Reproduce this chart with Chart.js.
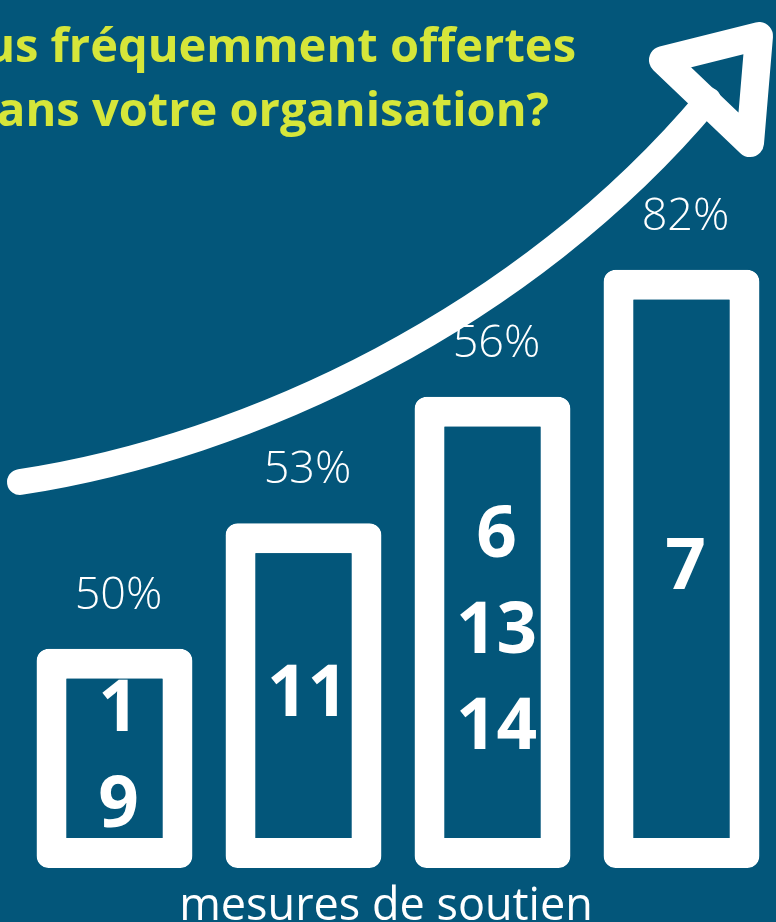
<!DOCTYPE html>
<html lang="fr">
<head>
<meta charset="utf-8">
<title>Mesures de soutien</title>
<script src="https://cdn.jsdelivr.net/npm/chart.js@4.4.1/dist/chart.umd.min.js"></script>
<style>
  html, body { margin: 0; padding: 0; background: #03567a; overflow: hidden; }
  #wrap { width: 776px; height: 922px; }
</style>
</head>
<body>
<div id="wrap"><canvas id="graphique" width="776" height="922"></canvas></div>
<script>
// Données
const categories = ['1, 9', '11', '6, 13, 14', '7'];
const mesures = [['1', '9'], ['11'], ['6', '13', '14'], ['7']];
const pourcentages = [50, 53, 56, 82];
const hauteurs = [31.4, 49.4, 67.5, 85.7]; // hauteur visuelle des colonnes (échelle 0-100)
const titre = ['les plus fréquemment offertes', 'dans votre organisation?'];
const titreAxe = 'mesures de soutien';

const FOND = '#03567a';
const JAUNE = '#d6e63a';
const BLANC = '#ffffff';

const fondPlugin = {
    id: 'fond',
    beforeDraw(chart) {
        const ctx = chart.ctx;
        ctx.save();
        ctx.fillStyle = FOND;
        ctx.fillRect(0, 0, chart.width, chart.height);

        // titre (coupé à gauche, comme l'original)
        ctx.fillStyle = JAUNE;
        ctx.font = 'bold 47px "Open Sans"';
        ctx.textAlign = 'right';
        ctx.textBaseline = 'alphabetic';
        ctx.fillText(titre[0], 576, 62);
        ctx.fillText(titre[1], 549, 126);

        // flèche montante
        ctx.strokeStyle = BLANC;
        ctx.lineCap = 'round';
        ctx.lineJoin = 'round';
        ctx.lineWidth = 26;
        ctx.beginPath();
        ctx.moveTo(20, 482);
        ctx.bezierCurveTo(250, 447, 525, 318, 708, 100);
        ctx.stroke();
        ctx.lineWidth = 28;
        ctx.beginPath();
        ctx.moveTo(759, 36);
        ctx.lineTo(663, 60);
        ctx.lineTo(750, 143);
        ctx.closePath();
        ctx.stroke();

        // titre de l'axe horizontal
        ctx.fillStyle = BLANC;
        ctx.font = '45px "Open Sans"';
        ctx.textAlign = 'center';
        ctx.fillText(titreAxe, 386, 920);
        ctx.restore();
    }
};

const etiquettesPlugin = {
    id: 'etiquettes',
    afterDatasetsDraw(chart) {
        const ctx = chart.ctx;
        const meta = chart.getDatasetMeta(0);
        const y = chart.scales.y;
        ctx.save();
        ctx.fillStyle = BLANC;
        ctx.textAlign = 'center';
        ctx.textBaseline = 'middle';
        meta.data.forEach((bar, i) => {
            // pourcentage au-dessus de la colonne
            ctx.font = '300 45px "Open Sans"';
            ctx.fillText(pourcentages[i] + '%', bar.x + 4, bar.y - 53);

            // numéros des mesures dans la colonne
            const bord = 30;
            const haut = bar.y + bord;
            const bas = y.getPixelForValue(0) - bord;
            const centre = (haut + bas) / 2;
            const pas = 96;
            const n = mesures[i].length;
            ctx.font = 'bold 71px "Open Sans"';
            mesures[i].forEach((m, k) => {
                ctx.fillText(m, bar.x + 4, centre + (k - (n - 1) / 2) * pas);
            });
        });
        ctx.restore();
    }
};

const ctx = document.getElementById('graphique');
const graphique = new Chart(ctx, {
    type: 'bar',
    data: {
        labels: categories,
        datasets: [{
            data: hauteurs,
            backgroundColor: FOND,
            borderColor: BLANC,
            borderWidth: 30,
            borderRadius: 12,
            borderSkipped: false,
            barPercentage: 0.825,
            categoryPercentage: 1
        }]
    },
    options: {
        responsive: false,
        animation: false,
        layout: {
            padding: { top: 170, left: 20, right: 0, bottom: 54 }
        },
        scales: {
            x: {
                display: false
            },
            y: {
                display: false,
                min: 0,
                max: 100
            }
        },
        plugins: {
            legend: { display: false },
            tooltip: { enabled: false }
        }
    },
    plugins: [fondPlugin, etiquettesPlugin]
});
</script>
</body>
</html>
